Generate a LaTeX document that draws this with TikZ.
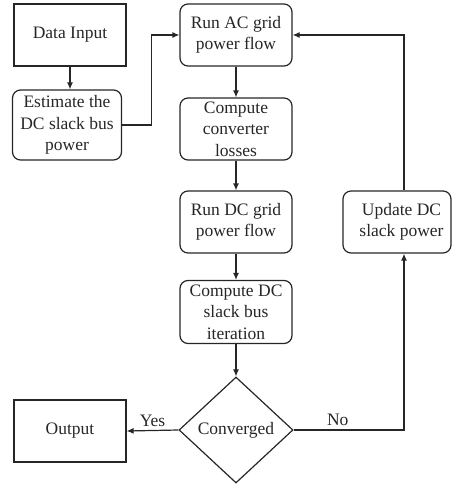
\documentclass[tikz,border=0pt]{standalone}
\usepackage{fontspec}
\setmainfont{Liberation Serif}
\usetikzlibrary{arrows.meta,shapes.geometric}
\tikzset{
  plainbox/.style={draw, line width=1.2pt, minimum width=112pt, minimum height=62pt, inner sep=0pt, align=center},
  roundbox/.style={plainbox, rounded corners=8pt},
  decision/.style={draw, line width=1.2pt, diamond, minimum width=114pt, minimum height=106pt, inner sep=0pt, align=center},
  flowline/.style={->, line width=1.2pt}
}
\begin{document}
\begin{tikzpicture}[x=1pt, y=-1pt, >={Latex[length=7pt,width=6pt]},
    font=\fontsize{17.5}{21.5}\selectfont, color=black!85]
        \useasboundingbox (0,0) rectangle (452,484);
        % Left column
        \node[plainbox] (input) at (70,35) {Data Input};
        \node[roundbox, minimum width=109pt, minimum height=70pt] (estimate) at (67,125) {Estimate the\\DC slack bus\\power};
        \node[plainbox] (output) at (70,431) {Output};

        % Middle column
        \node[roundbox] (runac) at (236,35) {Run AC grid\\power flow};
        \node[roundbox] (losses) at (236,129) {Compute\\converter\\losses};
        \node[roundbox] (rundc) at (236,222) {Run DC grid\\power flow};
        \node[roundbox, minimum height=63pt] (slack) at (236,312) {Compute DC\\slack bus\\iteration};
        \node[decision] (conv) at (236,430) {Converged};

        % Right column
        \node[roundbox, minimum width=108pt] (update) at (397,222) {\hspace*{9pt}Update DC\\\hspace*{9pt}slack power};

        % Connectors
        \draw[flowline] (input) -- (input |- estimate.north);
        \draw[flowline] (estimate.east) -- ++(29,0) |- (runac.west);
        \draw[flowline] (runac) -- (losses);
        \draw[flowline] (losses) -- (rundc);
        \draw[flowline] (rundc) -- (slack);
        \draw[flowline] (slack) -- (conv);
        \draw[flowline] (conv.west) -- node[above] (yes) {Yes} (output.east);
        \draw[flowline] (conv.east) -- node[above, pos=0.4] (no) {No} ([xshift=7pt]conv.east -| update.south) -- ([xshift=7pt]update.south);
        \draw[flowline] ([xshift=7pt]update.north) |- (runac.east);
    \end{tikzpicture}
\end{document}
